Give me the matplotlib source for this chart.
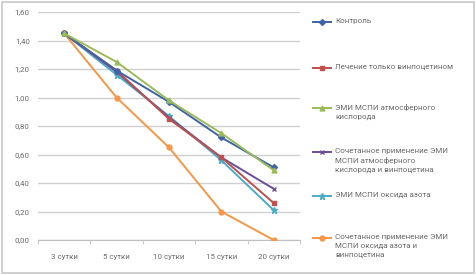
import numpy as np
import matplotlib
matplotlib.use("Agg")
import matplotlib.pyplot as plt
from matplotlib.lines import Line2D
from matplotlib.patches import Rectangle

plt.rcParams['font.family'] = ['Roboto', 'DejaVu Sans']

# данные
days = ["3 сутки", "5 сутки", "10 сутки", "15 сутки", "20 сутки"]
control = [1.45, 1.19, 0.97, 0.72, 0.51]
vinpo = [1.45, 1.19, 0.85, 0.58, 0.26]
emi_o2 = [1.45, 1.25, 0.98, 0.75, 0.49]
emi_o2_vinpo = [1.45, 1.18, 0.86, 0.58, 0.36]
emi_no = [1.45, 1.16, 0.87, 0.56, 0.21]
emi_no_vinpo = [1.45, 1.00, 0.65, 0.20, 0.00]

labels = [
    "Контроль",
    "Лечение только винпоцетином",
    "ЭМИ МСПИ атмосферного\nкислорода",
    "Сочетанное применение ЭМИ\nМСПИ атмосферного\nкислорода и винпоцетина",
    "ЭМИ МСПИ оксида азота",
    "Сочетанное применение ЭМИ\nМСПИ оксида азота и\nвинпоцетина",
]
series = [control, vinpo, emi_o2, emi_o2_vinpo, emi_no, emi_no_vinpo]
colors = ["#3F63A8", "#C0504D", "#9BBB59", "#6A4E9A", "#4BACC6", "#F79646"]
markers = ["D", "s", "^", "x", "*", "o"]
sizes = [3, 3.5, 3.5, 3.5, 4.5, 3.5]

fig = plt.figure(figsize=(4.76, 2.75), dpi=100)
fig.patches.append(Rectangle((0.004, 0.008), 0.992, 0.985, transform=fig.transFigure,
                             fill=False, edgecolor="#C8C8C8", lw=1.2))
ax = fig.add_axes([0.080, 0.127, 0.550, 0.829])

x = np.arange(len(days))
# порядок отрисовки: оранжевая снизу
for i in [5, 4, 3, 1, 0, 2]:
    ax.plot(x, series[i], color=colors[i], marker=markers[i], ms=sizes[i],
            lw=1.4, mew=1.0, zorder=3)

ax.set_xlim(-0.5, 4.5)
ax.set_ylim(0, 1.6)
ax.set_yticks(np.arange(0, 1.61, 0.2))
ax.set_yticklabels([f"{v:.2f}".replace(".", ",") for v in np.arange(0, 1.61, 0.2)])
ax.set_xticks(x)
ax.set_xticklabels(days)
ax.set_xticks(np.arange(-0.5, 4.6, 1), minor=True)
ax.tick_params(axis="x", which="major", length=0, pad=10, labelsize=5.7, colors="#6A6A6A")
ax.tick_params(axis="x", which="minor", length=3, color="#BFBFBF")
ax.tick_params(axis="y", length=0, pad=6, labelsize=5.7, colors="#6A6A6A")
ax.grid(axis="y", color="#D0D0D0", lw=1.0)
ax.set_axisbelow(True)
for s in ["top", "right", "left"]:
    ax.spines[s].set_visible(False)
ax.spines["bottom"].set_color("#BFBFBF")

# легенда справа
legend_y = [22, 68, 108, 152, 196, 238]
for i, lab in enumerate(labels):
    yf = 1 - legend_y[i] / 275
    fig.add_artist(Line2D([313 / 476, 331 / 476], [yf, yf], color=colors[i], lw=1.4,
                          transform=fig.transFigure))
    fig.add_artist(Line2D([322 / 476], [yf], color=colors[i], marker=markers[i],
                          ms=sizes[i], mew=1.0, transform=fig.transFigure))
    fig.text(335 / 476, yf + 4 / 275, lab, fontsize=5.8, color="#6A6A6A", va="top",
             ha="left", linespacing=1.55)

fig.savefig("out.png", dpi=100)
